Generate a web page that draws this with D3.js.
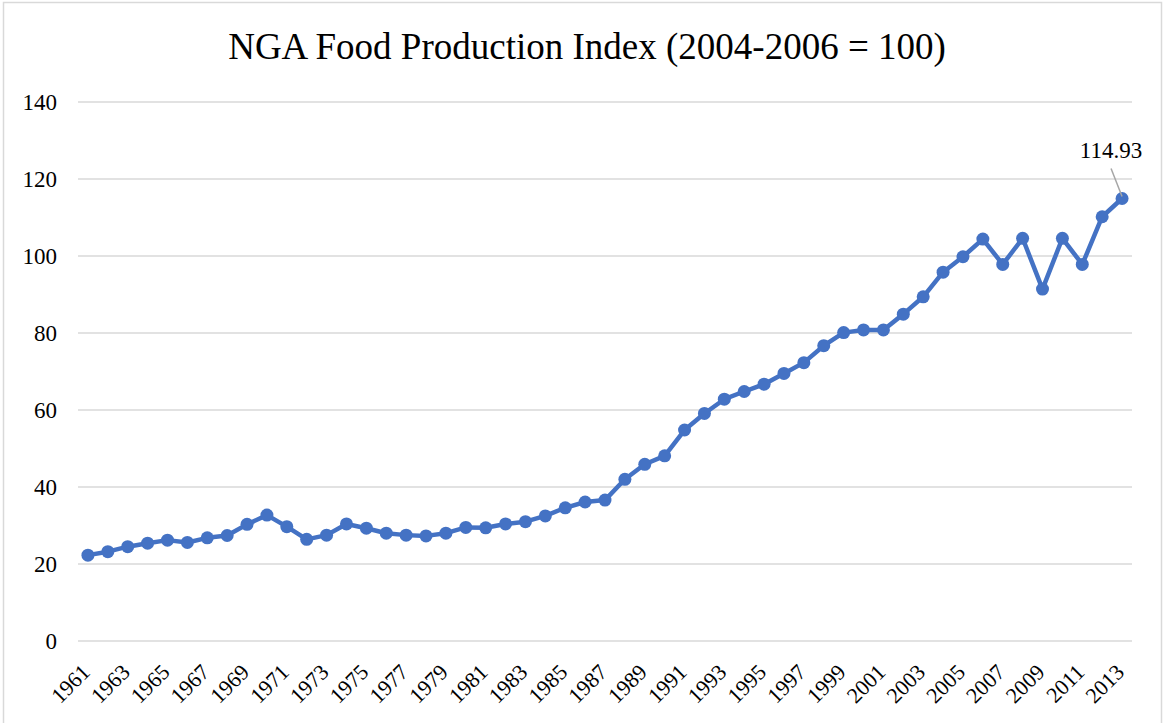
<!DOCTYPE html>
<html>
<head>
<meta charset="utf-8">
<script src="https://cdn.jsdelivr.net/npm/d3@7"></script>
<style>
  html, body { margin: 0; padding: 0; background: #fff; }
  svg { display: block; }
  text { font-family: "Liberation Serif", "Times New Roman", serif; fill: #000; }
</style>
</head>
<body>
<svg id="chart" width="1164" height="723"></svg>
<script>
// NGA food production index, 1961–2013 (2004–2006 = 100)
const years = d3.range(1961, 2014);
const indexValues = [
  22.3, 23.2, 24.5, 25.4, 26.2, 25.6, 26.8, 27.4, 30.3, 32.7,
  29.7, 26.4, 27.5, 30.4, 29.3, 28.0, 27.5, 27.3, 28.0, 29.5,
  29.4, 30.4, 31.0, 32.5, 34.6, 36.1, 36.6, 42.0, 45.9, 48.1,
  54.8, 59.1, 62.8, 64.8, 66.7, 69.5, 72.3, 76.7, 80.1, 80.8,
  80.8, 84.9, 89.4, 95.8, 99.8, 104.4, 97.8, 104.6, 91.4, 104.6,
  97.8, 110.2, 114.93
];
const yTicks = [0, 20, 40, 60, 80, 100, 120, 140];
const xTickYears = years.filter((d, i) => i % 2 === 0);
const titleText = "NGA Food Production Index (2004-2006 = 100)";
const lastLabel = "114.93";

const W = 1164, H = 723;
const plot = { left: 78, right: 1132, top: 102, bottom: 641 };
const blue = "#4472C4";

const svg = d3.select("#chart");

// chart frame
svg.append("rect")
  .attr("x", 3.5).attr("y", 2.5)
  .attr("width", W - 6).attr("height", H + 10)
  .attr("fill", "#fff").attr("stroke", "#d9d9d9").attr("stroke-width", 1.5);

const x = d3.scaleBand().domain(years).range([plot.left, plot.right]);
const cx = d => x(d) + x.bandwidth() / 2;
const y = d3.scaleLinear().domain([0, 140]).range([plot.bottom, plot.top]);

// title
svg.append("text")
  .attr("x", 587).attr("y", 59)
  .attr("text-anchor", "middle")
  .style("font-size", "37px")
  .text(titleText);

// horizontal gridlines
svg.append("g").selectAll("line")
  .data(yTicks).join("line")
  .attr("x1", plot.left).attr("x2", plot.right)
  .attr("y1", d => y(d)).attr("y2", d => y(d))
  .attr("stroke", "#d9d9d9").attr("stroke-width", 1.5);

// y-axis labels
svg.append("g").selectAll("text")
  .data(yTicks).join("text")
  .attr("x", 57).attr("y", d => y(d))
  .attr("dy", "0.35em")
  .attr("text-anchor", "end")
  .style("font-size", "23px")
  .text(d => d);

// x-axis labels, every other year, rotated
svg.append("g").selectAll("text")
  .data(xTickYears).join("text")
  .attr("transform", d => `translate(${cx(d) - 2},${plot.bottom + 27}) rotate(-45)`)
  .attr("dy", "0.35em")
  .attr("text-anchor", "end")
  .style("font-size", "22px")
  .text(d => d);

const pts = years.map((yr, i) => ({ yr, v: indexValues[i] }));

// series line
svg.append("path")
  .datum(pts)
  .attr("fill", "none")
  .attr("stroke", blue)
  .attr("stroke-width", 4.5)
  .attr("stroke-linejoin", "round")
  .attr("d", d3.line().x(d => cx(d.yr)).y(d => y(d.v)));

// markers
svg.append("g").selectAll("circle")
  .data(pts).join("circle")
  .attr("cx", d => cx(d.yr)).attr("cy", d => y(d.v))
  .attr("r", 6.5).attr("fill", blue);

// data label for final year with leader line
const last = pts[pts.length - 1];
svg.append("line")
  .attr("x1", cx(last.yr) - 11).attr("y1", y(last.v) - 30)
  .attr("x2", cx(last.yr)).attr("y2", y(last.v) - 2)
  .attr("stroke", "#a6a6a6").attr("stroke-width", 1.5);
svg.append("text")
  .attr("x", cx(last.yr) - 11).attr("y", y(last.v) - 41)
  .attr("text-anchor", "middle")
  .style("font-size", "23px")
  .text(lastLabel);
</script>
</body>
</html>
